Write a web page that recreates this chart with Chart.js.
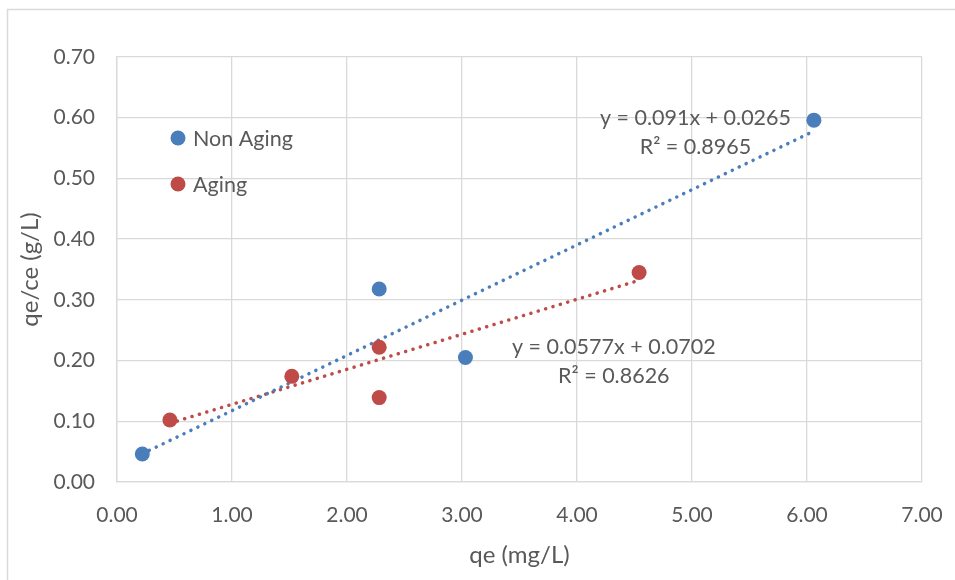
<!DOCTYPE html>
<html>
<head>
<meta charset="utf-8">
<script src="https://cdn.jsdelivr.net/npm/chart.js@4.4.1/dist/chart.umd.min.js"></script>
<style>
    html, body { margin: 0; padding: 0; background: #ffffff; }
    #wrap { width: 955px; height: 580px; position: relative; }
</style>
</head>
<body>
<div id="wrap"><canvas id="myScatterChart" width="955" height="580"></canvas></div>
<script>
    "use strict";

    // Data
    var nonAgingX = [0.22, 2.28, 3.03, 6.06];
    var nonAgingY = [0.046, 0.318, 0.205, 0.596];
    var agingX = [0.46, 1.52, 2.28, 2.28, 4.54];
    var agingY = [0.102, 0.174, 0.222, 0.139, 0.345];

    var seriesNames = ["Non Aging", "Aging"];
    var trendSlope = [0.091, 0.0577];
    var trendIntercept = [0.0265, 0.0702];
    var trendR2 = ["0.8965", "0.8626"];
    // where the equation labels sit, in axis units
    var labelX = [5.03, 4.32];
    var labelY = [0.600, 0.223];

    var xTicks = [0, 1, 2, 3, 4, 5, 6, 7];
    var yTicks = [0, 0.1, 0.2, 0.3, 0.4, 0.5, 0.6, 0.7];

    var blue = "#4a7ebb";
    var red = "#be4b48";
    var textColor = "#595959";
    var gridColor = "#d9d9d9";
    var fontFamily = "Lato, 'Open Sans', sans-serif";

    function toPoints(xs, ys) {
        return xs.map(function (x, i) { return {x: x, y: ys[i]}; });
    }

    function trendPoints(xs, k) {
        var x0 = Math.min.apply(null, xs);
        var x1 = Math.max.apply(null, xs);
        return [
            {x: x0, y: trendSlope[k] * x0 + trendIntercept[k]},
            {x: x1, y: trendSlope[k] * x1 + trendIntercept[k]}
        ];
    }

    // Frame, legend and trendline equations
    var extras = {
        id: "extras",
        beforeDraw: function (chart) {
            var ctx = chart.ctx;
            ctx.save();
            ctx.fillStyle = "#ffffff";
            ctx.fillRect(0, 0, chart.width, chart.height);
            ctx.strokeStyle = gridColor;
            ctx.lineWidth = 1.5;
            ctx.beginPath();
            ctx.moveTo(7.5, chart.height);
            ctx.lineTo(7.5, 9.5);
            ctx.lineTo(chart.width, 9.5);
            ctx.stroke();
            ctx.restore();
        },
        afterDraw: function (chart) {
            var ctx = chart.ctx;
            var area = chart.chartArea;
            var xs = chart.scales.x, ys = chart.scales.y;
            ctx.save();
            ctx.font = "21.5px " + fontFamily;
            ctx.textBaseline = "middle";

            // legend
            var colors = [blue, red];
            seriesNames.forEach(function (name, i) {
                var cx = area.left + 61;
                var cy = area.top + 81 + i * 46;
                ctx.fillStyle = colors[i];
                ctx.beginPath();
                ctx.arc(cx, cy, 7.5, 0, Math.PI * 2);
                ctx.fill();
                ctx.fillStyle = textColor;
                ctx.textAlign = "left";
                ctx.fillText(name, cx + 15, cy + 1);
            });

            // equations
            ctx.textAlign = "center";
            ctx.fillStyle = textColor;
            for (var k = 0; k < 2; k++) {
                var px = xs.getPixelForValue(labelX[k]);
                var py = ys.getPixelForValue(labelY[k]);
                ctx.fillText("y = " + trendSlope[k] + "x + " + trendIntercept[k], px, py);
                ctx.fillText("R\u00b2 = " + trendR2[k], px, py + 29);
            }
            ctx.restore();
        }
    };

    var ctx = document.getElementById("myScatterChart").getContext("2d");
    var myChart = new Chart(ctx, {
        type: "scatter",
        data: {
            datasets: [{
                label: seriesNames[0],
                data: toPoints(nonAgingX, nonAgingY),
                backgroundColor: blue,
                borderColor: blue,
                pointRadius: 7.5,
                borderWidth: 0,
                order: 1
            }, {
                label: seriesNames[1],
                data: toPoints(agingX, agingY),
                backgroundColor: red,
                borderColor: red,
                pointRadius: 7.5,
                borderWidth: 0,
                order: 0
            }, {
                label: "Linear (Non Aging)",
                type: "line",
                data: trendPoints(nonAgingX, 0),
                borderColor: blue,
                borderWidth: 3.5,
                borderDash: [0.1, 7.6],
                borderCapStyle: "round",
                pointRadius: 0,
                fill: false,
                order: 2
            }, {
                label: "Linear (Aging)",
                type: "line",
                data: trendPoints(agingX, 1),
                borderColor: red,
                borderWidth: 3.5,
                borderDash: [0.1, 7.6],
                borderCapStyle: "round",
                pointRadius: 0,
                fill: false,
                order: 2
            }]
        },
        options: {
            responsive: false,
            animation: false,
            layout: {
                padding: {left: 10, top: 57, right: 33, bottom: 0}
            },
            plugins: {
                legend: {display: false},
                tooltip: {enabled: false}
            },
            scales: {
                x: {
                    type: "linear",
                    min: 0,
                    max: 7,
                    afterBuildTicks: function (s) {
                        s.ticks = xTicks.map(function (v) { return {value: v}; });
                    },
                    afterFit: function (s) {
                        s.height = 98;
                        s.paddingLeft = 0;
                        s.paddingRight = 0;
                    },
                    grid: {color: gridColor, lineWidth: 1.3, drawTicks: false},
                    border: {display: true, color: gridColor, width: 1.3},
                    ticks: {
                        color: textColor,
                        padding: 21,
                        font: {family: fontFamily, size: 21},
                        callback: function (v) { return v.toFixed(2); }
                    },
                    title: {
                        display: true,
                        text: "qe (mg/L)",
                        color: textColor,
                        font: {family: fontFamily, size: 24},
                        padding: {top: 0, bottom: 10}
                    }
                },
                y: {
                    type: "linear",
                    min: 0,
                    max: 0.7,
                    afterBuildTicks: function (s) {
                        s.ticks = yTicks.map(function (v) { return {value: v}; });
                    },
                    afterFit: function (s) {
                        s.width = 107;
                        s.paddingTop = 0;
                        s.paddingBottom = 0;
                    },
                    grid: {color: gridColor, lineWidth: 1.3, drawTicks: false},
                    border: {display: true, color: gridColor, width: 1.3},
                    ticks: {
                        color: textColor,
                        padding: 22,
                        font: {family: fontFamily, size: 21},
                        callback: function (v) { return v.toFixed(2); }
                    },
                    title: {
                        display: true,
                        text: "qe/ce (g/L)",
                        color: textColor,
                        font: {family: fontFamily, size: 24},
                        padding: {top: 6, bottom: 0}
                    }
                }
            }
        },
        plugins: [extras]
    });
</script>
</body>
</html>
